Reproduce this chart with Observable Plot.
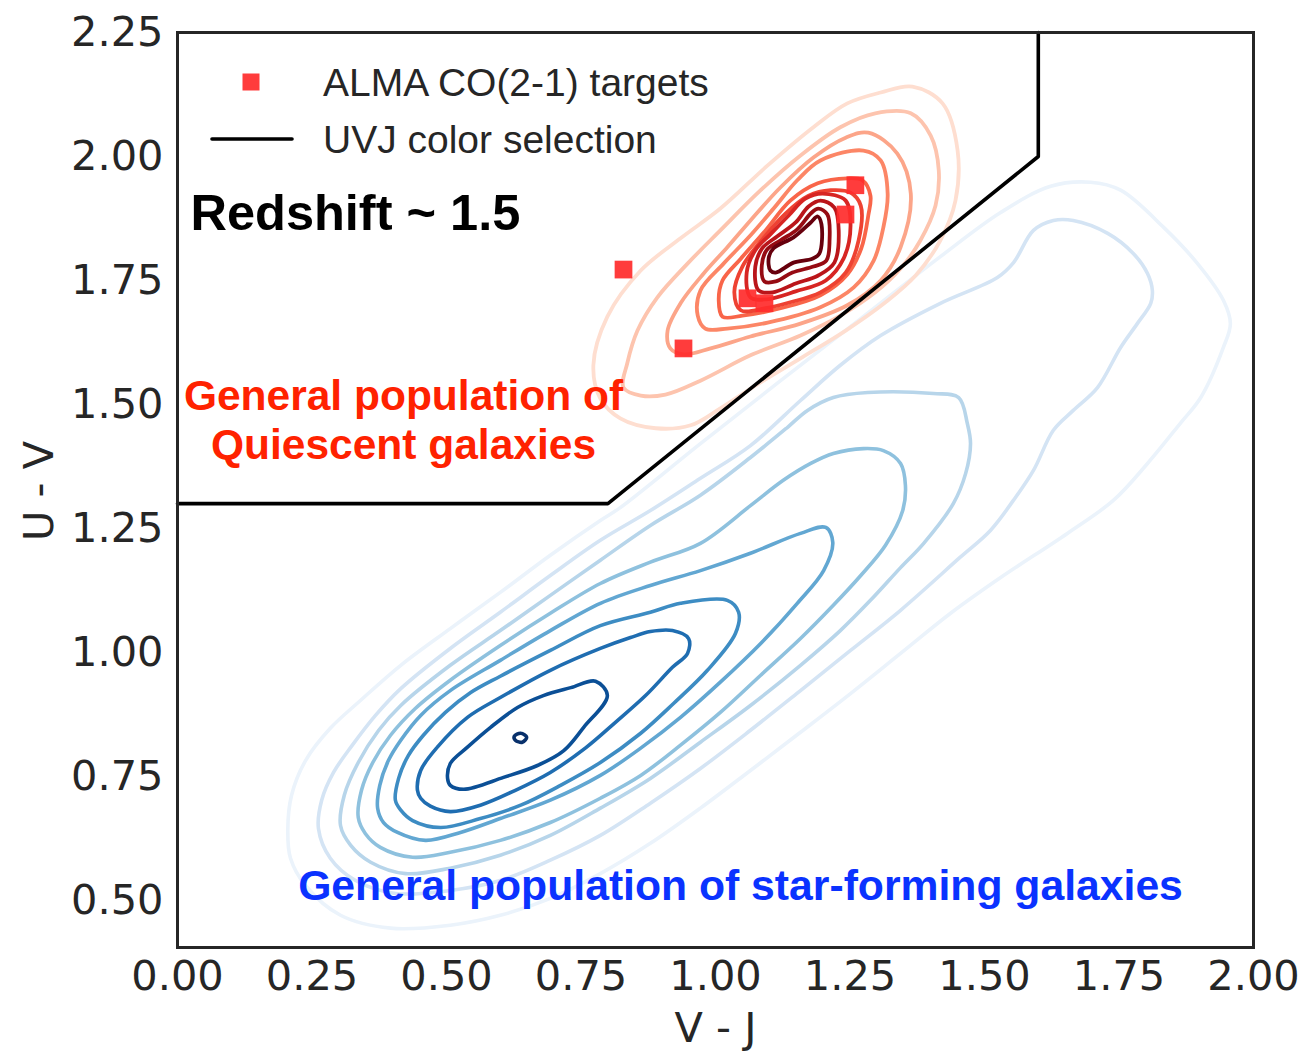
<!DOCTYPE html>
<html>
<head>
<meta charset="utf-8">
<script src="https://cdn.jsdelivr.net/npm/d3@7"></script>
<script src="https://cdn.jsdelivr.net/npm/@observablehq/plot@0.6"></script>
<style>
  html, body { margin: 0; padding: 0; background: #fff; }
  #chart svg { display: block; }
</style>
</head>
<body>
<div id="chart"></div>
<script>
// Star-forming population: KDE contour levels, outermost to innermost, as [V-J, U-V]
const sf1 = [[0.205,0.641],[0.212,0.712],[0.238,0.782],[0.284,0.847],[0.340,0.903],[0.415,0.974],[0.507,1.048],[0.600,1.121],[0.693,1.196],[0.786,1.266],[0.823,1.292],[0.972,1.421],[1.121,1.548],[1.270,1.673],[1.418,1.798],[1.530,1.887],[1.623,1.940],[1.697,1.948],[1.753,1.932],[1.833,1.857],[1.896,1.784],[1.944,1.710],[1.957,1.663],[1.944,1.615],[1.902,1.514],[1.864,1.462],[1.803,1.381],[1.740,1.307],[1.654,1.240],[1.530,1.151],[1.437,1.079],[1.344,0.998],[1.251,0.917],[1.158,0.839],[1.065,0.762],[0.972,0.686],[0.879,0.615],[0.786,0.554],[0.693,0.504],[0.600,0.470],[0.507,0.450],[0.396,0.444],[0.303,0.470],[0.238,0.530],[0.210,0.585]];
const sf2 = [[0.262,0.645],[0.268,0.702],[0.290,0.758],[0.325,0.813],[0.368,0.873],[0.415,0.927],[0.507,1.008],[0.600,1.081],[0.693,1.155],[0.786,1.226],[0.879,1.286],[0.972,1.351],[1.065,1.417],[1.158,1.508],[1.232,1.579],[1.307,1.639],[1.418,1.704],[1.524,1.756],[1.554,1.786],[1.591,1.851],[1.628,1.871],[1.665,1.871],[1.729,1.845],[1.777,1.804],[1.803,1.764],[1.812,1.730],[1.809,1.704],[1.784,1.663],[1.753,1.615],[1.710,1.534],[1.665,1.488],[1.628,1.448],[1.591,1.367],[1.554,1.307],[1.511,1.246],[1.455,1.192],[1.344,1.085],[1.251,1.004],[1.158,0.923],[1.065,0.843],[0.972,0.766],[0.879,0.696],[0.786,0.631],[0.693,0.581],[0.600,0.540],[0.507,0.520],[0.405,0.514],[0.331,0.540],[0.284,0.585]];
const sf3 = [[0.303,0.651],[0.310,0.712],[0.336,0.778],[0.374,0.843],[0.415,0.893],[0.507,0.974],[0.600,1.044],[0.693,1.115],[0.786,1.186],[0.879,1.256],[0.972,1.317],[1.065,1.393],[1.134,1.454],[1.171,1.488],[1.219,1.514],[1.283,1.524],[1.405,1.522],[1.452,1.514],[1.468,1.462],[1.474,1.421],[1.465,1.361],[1.442,1.300],[1.387,1.220],[1.344,1.171],[1.288,1.105],[1.232,1.044],[1.158,0.974],[1.065,0.893],[0.972,0.819],[0.879,0.746],[0.786,0.686],[0.693,0.631],[0.600,0.591],[0.507,0.565],[0.424,0.554],[0.359,0.577],[0.322,0.611]];
const sf4 = [[0.336,0.667],[0.342,0.722],[0.363,0.778],[0.396,0.833],[0.442,0.887],[0.507,0.944],[0.600,1.014],[0.693,1.079],[0.786,1.139],[0.879,1.182],[0.972,1.220],[1.065,1.296],[1.126,1.347],[1.177,1.381],[1.219,1.401],[1.275,1.411],[1.312,1.407],[1.344,1.381],[1.353,1.337],[1.348,1.286],[1.316,1.216],[1.270,1.155],[1.219,1.095],[1.158,1.028],[1.084,0.954],[1.009,0.879],[0.935,0.813],[0.861,0.752],[0.786,0.706],[0.693,0.657],[0.600,0.621],[0.507,0.597],[0.437,0.587],[0.377,0.607],[0.349,0.635]];
const sf5 = [[0.372,0.686],[0.376,0.732],[0.392,0.782],[0.415,0.823],[0.452,0.873],[0.507,0.923],[0.600,0.984],[0.693,1.044],[0.786,1.099],[0.879,1.135],[0.972,1.165],[1.065,1.200],[1.158,1.240],[1.205,1.252],[1.218,1.222],[1.201,1.165],[1.152,1.099],[1.084,1.018],[1.009,0.940],[0.935,0.869],[0.861,0.807],[0.786,0.752],[0.693,0.702],[0.600,0.665],[0.526,0.637],[0.461,0.621],[0.409,0.637],[0.383,0.657]];
const sf6 = [[0.405,0.702],[0.411,0.746],[0.429,0.792],[0.457,0.833],[0.498,0.879],[0.545,0.919],[0.600,0.952],[0.693,1.004],[0.786,1.054],[0.879,1.081],[0.935,1.099],[1.022,1.105],[1.043,1.081],[1.037,1.038],[0.985,0.964],[0.922,0.897],[0.861,0.837],[0.786,0.778],[0.712,0.732],[0.638,0.692],[0.563,0.665],[0.489,0.647],[0.437,0.661],[0.415,0.682]];
const sf7 = [[0.446,0.722],[0.452,0.762],[0.483,0.809],[0.539,0.869],[0.600,0.909],[0.693,0.964],[0.786,1.008],[0.842,1.030],[0.879,1.042],[0.920,1.044],[0.950,1.028],[0.948,0.998],[0.920,0.970],[0.870,0.913],[0.814,0.859],[0.758,0.807],[0.693,0.758],[0.628,0.722],[0.563,0.692],[0.507,0.679],[0.470,0.690],[0.452,0.706]];
const sf8 = [[0.502,0.746],[0.507,0.776],[0.539,0.809],[0.582,0.849],[0.632,0.889],[0.680,0.913],[0.731,0.929],[0.777,0.942],[0.799,0.913],[0.755,0.849],[0.718,0.802],[0.669,0.772],[0.606,0.748],[0.532,0.724],[0.507,0.732]];
const sf9 = [[0.626,0.831],[0.638,0.837],[0.649,0.829],[0.641,0.819],[0.628,0.823]];

// Quiescent population: KDE contour levels, outermost to innermost
const q1 = [[0.786,1.512],[0.773,1.579],[0.799,1.677],[0.861,1.770],[0.935,1.835],[1.009,1.895],[1.097,1.982],[1.182,2.059],[1.245,2.107],[1.307,2.129],[1.366,2.141],[1.422,2.107],[1.450,2.012],[1.446,1.911],[1.418,1.831],[1.372,1.760],[1.316,1.706],[1.242,1.649],[1.158,1.593],[1.074,1.538],[1.009,1.492],[0.954,1.458],[0.889,1.452],[0.823,1.472]];
const q2 = [[0.861,1.518],[0.829,1.534],[0.836,1.583],[0.855,1.649],[0.892,1.716],[0.948,1.784],[1.009,1.851],[1.084,1.932],[1.158,2.002],[1.232,2.059],[1.297,2.087],[1.363,2.087],[1.400,2.042],[1.415,1.972],[1.409,1.901],[1.381,1.831],[1.344,1.774],[1.297,1.726],[1.232,1.679],[1.158,1.639],[1.065,1.599],[0.972,1.548],[0.907,1.520]];
const q3 = [[0.941,1.601],[0.916,1.613],[0.911,1.649],[0.935,1.704],[0.978,1.764],[1.022,1.817],[1.065,1.871],[1.121,1.938],[1.182,1.998],[1.242,2.038],[1.284,2.048],[1.338,2.006],[1.363,1.925],[1.344,1.817],[1.307,1.750],[1.245,1.700],[1.158,1.663],[1.065,1.637],[0.991,1.613]];
const q4 = [[0.981,1.653],[0.967,1.679],[0.972,1.730],[1.015,1.784],[1.060,1.835],[1.108,1.895],[1.152,1.952],[1.195,1.992],[1.275,2.012],[1.307,1.992],[1.320,1.925],[1.312,1.857],[1.294,1.790],[1.257,1.736],[1.195,1.696],[1.097,1.665],[1.022,1.653]];
const q5 = [[1.013,1.677],[1.006,1.710],[1.013,1.750],[1.047,1.794],[1.093,1.851],[1.139,1.911],[1.190,1.946],[1.245,1.956],[1.273,1.952],[1.288,1.921],[1.284,1.881],[1.271,1.815],[1.245,1.762],[1.195,1.720],[1.121,1.694],[1.050,1.679]];
const q6 = [[1.047,1.690],[1.035,1.726],[1.050,1.778],[1.084,1.829],[1.130,1.885],[1.173,1.921],[1.214,1.932],[1.251,1.927],[1.270,1.901],[1.266,1.831],[1.242,1.766],[1.195,1.726],[1.139,1.706],[1.093,1.694]];
const q7 = [[1.065,1.716],[1.058,1.766],[1.074,1.811],[1.102,1.843],[1.136,1.881],[1.167,1.915],[1.199,1.925],[1.242,1.911],[1.251,1.861],[1.238,1.794],[1.205,1.750],[1.149,1.728],[1.095,1.712]];
const q8 = [[1.080,1.730],[1.074,1.778],[1.087,1.815],[1.115,1.839],[1.149,1.867],[1.173,1.899],[1.195,1.911],[1.221,1.897],[1.229,1.851],[1.221,1.786],[1.191,1.760],[1.149,1.744],[1.106,1.726]];
const q9 = [[1.091,1.748],[1.086,1.780],[1.095,1.811],[1.121,1.831],[1.152,1.853],[1.177,1.885],[1.191,1.895],[1.208,1.883],[1.212,1.831],[1.206,1.790],[1.182,1.778],[1.143,1.766],[1.112,1.748]];
const q10 = [[1.102,1.770],[1.099,1.796],[1.108,1.815],[1.145,1.837],[1.177,1.867],[1.190,1.879],[1.197,1.863],[1.193,1.804],[1.180,1.794],[1.145,1.786],[1.112,1.766]];

// ALMA CO(2-1) targets
const targetVJ = [0.829, 0.9405, 1.0595, 1.091, 1.2416, 1.260];
const targetUV = [1.772, 1.613, 1.714, 1.704, 1.883, 1.942];

// UVJ quiescent selection boundary
const boundaryVJ = [0, 0.8, 1.6, 1.6];
const boundaryUV = [1.3, 1.3, 2.0, 2.25];

const xTicks = [0, 0.25, 0.5, 0.75, 1, 1.25, 1.5, 1.75, 2];
const yTicks = [0.5, 0.75, 1, 1.25, 1.5, 1.75, 2, 2.25];

const starForming = [sf1, sf2, sf3, sf4, sf5, sf6, sf7, sf8, sf9];
const quiescent = [q1, q2, q3, q4, q5, q6, q7, q8, q9, q10];

const targets = targetVJ.map((vj, i) => ({vj, uv: targetUV[i]}));
const boundary = boundaryVJ.map((vj, i) => ({vj, uv: boundaryUV[i]}));

// one closed line per contour level, shaded along a sequential scheme
function contourMarks(levels, interpolate, t0, width) {
  const n = levels.length;
  return levels.map((ring, i) => Plot.line(ring, {
    x: d => d[0],
    y: d => d[1],
    curve: "catmull-rom-closed",
    stroke: interpolate(t0 + i * (1 - t0) / (n - 1)),
    strokeWidth: width,
    strokeLinejoin: "round"
  }));
}

const sans = "Liberation Sans, Arial, Helvetica, sans-serif";
const tickFont = 41.5;

const chart = Plot.plot({
  width: 1307,
  height: 1052,
  marginLeft: 177,
  marginRight: 54,
  marginTop: 32,
  marginBottom: 105,
  style: {fontFamily: "DejaVu Sans, sans-serif", fontSize: "41px", color: "#262626", background: "#fff", overflow: "visible"},
  x: {domain: [0, 2], label: null},
  y: {domain: [0.405, 2.25], label: null},
  marks: [
    ...contourMarks(starForming, d3.interpolateBlues, 0.06, 3.6),
    ...contourMarks(quiescent, d3.interpolateReds, 0.12, 3.8),
    Plot.line(boundary, {x: "vj", y: "uv", stroke: "#000", strokeWidth: 3.6}),
    Plot.dot(targets, {x: "vj", y: "uv", symbol: "square", r: 10, fill: "#ff2b2b", fillOpacity: 0.92, stroke: null}),
    Plot.frame({stroke: "#262626", strokeWidth: 3}),
    Plot.axisX({ticks: xTicks, tickFormat: d3.format(".2f"), tickSize: 0, tickPadding: 13, fontSize: tickFont, fill: "#262626", label: null}),
    Plot.axisY({ticks: yTicks, tickFormat: d3.format(".2f"), tickSize: 0, tickPadding: 14, fontSize: tickFont, fill: "#262626", label: null}),
    Plot.text(["V - J"], {text: d => d, frameAnchor: "bottom", dy: 81, lineAnchor: "middle", fontSize: tickFont, fill: "#262626"}),
    Plot.text(["Redshift ~ 1.5"], {text: d => d, frameAnchor: "top-left", dx: 13, dy: 197, textAnchor: "start", lineAnchor: "bottom", fontFamily: sans, fontWeight: "bold", fontSize: 50.5, fill: "#000"}),
    Plot.text(["General population of"], {text: d => d, frameAnchor: "top-left", dx: 226, dy: 377, textAnchor: "middle", lineAnchor: "bottom", fontFamily: sans, fontWeight: "bold", fontSize: 42.5, fill: "#ff2200"}),
    Plot.text(["Quiescent galaxies"], {text: d => d, frameAnchor: "top-left", dx: 226, dy: 426, textAnchor: "middle", lineAnchor: "bottom", fontFamily: sans, fontWeight: "bold", fontSize: 42.5, fill: "#ff2200"}),
    Plot.text(["General population of star-forming galaxies"], {text: d => d, frameAnchor: "top-left", dx: 563, dy: 867, textAnchor: "middle", lineAnchor: "bottom", fontFamily: sans, fontWeight: "bold", fontSize: 42.7, fill: "#0a32ff"})
  ]
});

const svg = d3.select(chart);

// vertical axis title
svg.append("text")
  .attr("transform", "translate(38,491) rotate(-90)")
  .attr("text-anchor", "middle")
  .attr("dy", "0.35em")
  .attr("font-family", "DejaVu Sans, sans-serif")
  .attr("font-size", tickFont)
  .attr("fill", "#262626")
  .text("U - V");

// legend in the upper-left corner of the frame
const legend = svg.append("g")
  .attr("font-family", sans)
  .attr("font-size", 39)
  .attr("text-anchor", "start")
  .attr("fill", "#262626");
legend.append("rect").attr("x", 242.5).attr("y", 73.5).attr("width", 17).attr("height", 17).attr("fill", "#ff2b2b").attr("fill-opacity", 0.92);
legend.append("text").attr("x", 323).attr("y", 96).text("ALMA CO(2-1) targets");
legend.append("line").attr("x1", 212).attr("x2", 292).attr("y1", 139).attr("y2", 139).attr("stroke", "#000").attr("stroke-width", 3.6).attr("stroke-linecap", "round");
legend.append("text").attr("x", 323).attr("y", 153).text("UVJ color selection");

document.getElementById("chart").append(chart);
</script>
</body>
</html>
